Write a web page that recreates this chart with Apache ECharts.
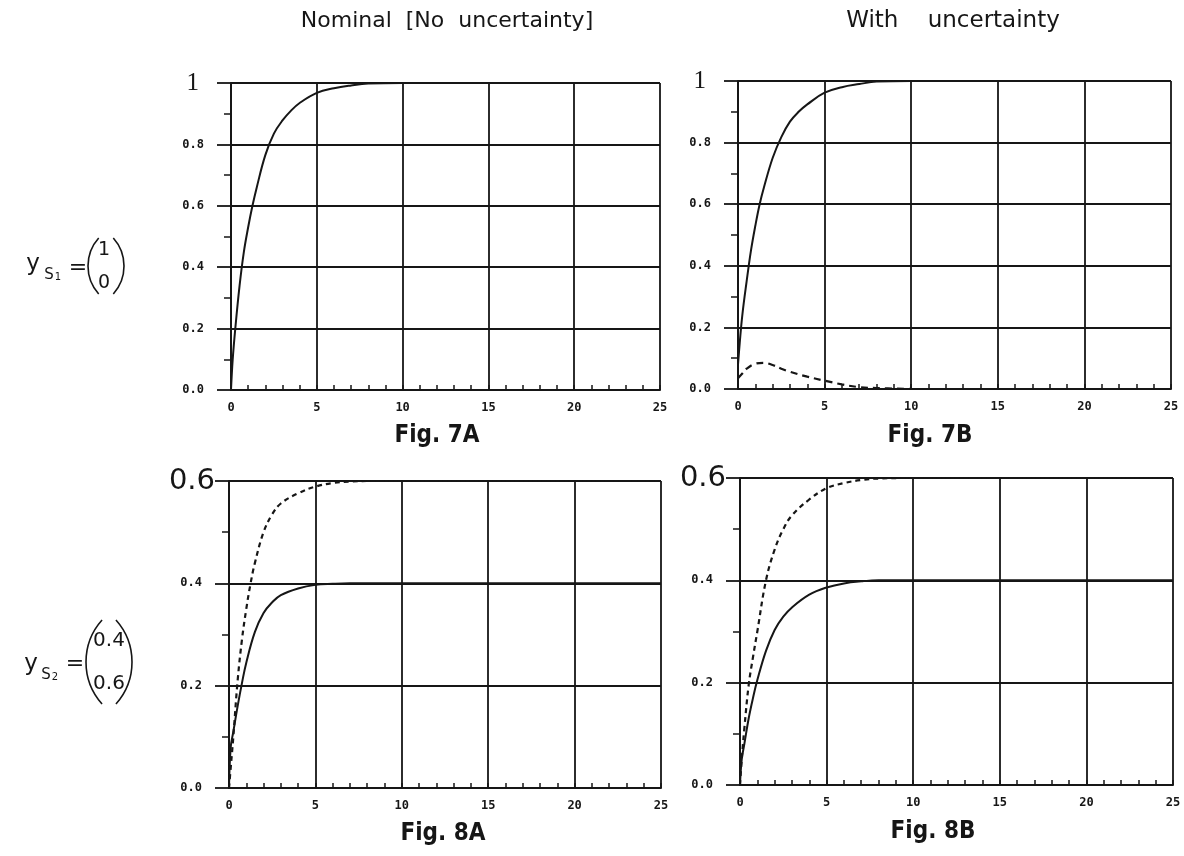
<!DOCTYPE html>
<html>
<head>
<meta charset="utf-8">
<script src="https://cdn.jsdelivr.net/npm/echarts@6/dist/echarts.min.js"></script>
<style>
html,body{margin:0;padding:0;background:#fff;}
#chart{width:1184px;height:856px;}
</style>
</head>
<body>
<div id="chart"></div>
<script>
// ---- tick labels ----
const xTickLabels = ['0', '5', '10', '15', '20', '25'];
const yTickLabels7 = ['0.0', '0.2', '0.4', '0.6', '0.8', '1'];
const yTickLabels8 = ['0.0', '0.2', '0.4', '0.6'];

// ---- Fig. 7A (nominal), output 1 ----
const t7A = [0, 0.1, 0.25, 0.5, 0.75, 1, 1.25, 1.5, 2, 2.5, 3, 3.5, 4, 5, 6, 7, 8, 10, 25];
const y7A = [0.0, 0.1, 0.2, 0.34, 0.45, 0.53, 0.6, 0.66, 0.765, 0.835, 0.878, 0.91, 0.935, 0.968, 0.983, 0.992, 0.998, 1.0, 1.0];

// ---- Fig. 7B (with uncertainty) ----
const t7B = [0, 0.1, 0.25, 0.5, 0.75, 1, 1.25, 1.5, 2, 2.5, 3, 3.5, 4, 5, 6, 7, 8, 10, 25];
const y7B = [0.08, 0.15, 0.24, 0.35, 0.45, 0.53, 0.6, 0.655, 0.75, 0.818, 0.868, 0.9, 0.924, 0.962, 0.98, 0.99, 0.998, 1.0, 1.0];
const t7Bd = [0, 0.25, 0.5, 1, 1.5, 2, 2.5, 3, 4, 5, 6, 7, 8, 10];
const y7Bd = [0.035, 0.05, 0.066, 0.082, 0.085, 0.078, 0.066, 0.056, 0.04, 0.027, 0.015, 0.006, 0.003, 0.0];

// ---- Fig. 8A (nominal) ----
const t8A = [0, 0.1, 0.25, 0.5, 0.75, 1, 1.5, 2, 2.5, 3, 4, 5, 6, 7, 25];
const y8A = [0.0, 0.08, 0.11, 0.16, 0.205, 0.245, 0.305, 0.342, 0.363, 0.377, 0.39, 0.397, 0.399, 0.4, 0.4];
const t8Ad = [0, 0.1, 0.25, 0.5, 0.75, 1, 1.25, 1.5, 2, 2.5, 3, 4, 5, 6, 7, 8, 25];
const y8Ad = [0.0, 0.04, 0.1, 0.21, 0.29, 0.35, 0.4, 0.44, 0.5, 0.535, 0.556, 0.576, 0.589, 0.596, 0.599, 0.6, 0.6];

// ---- Fig. 8B (with uncertainty) ----
const t8B = [0, 0.1, 0.25, 0.5, 0.75, 1, 1.5, 2, 2.5, 3, 4, 5, 6, 7, 8, 25];
const y8B = [0.0, 0.05, 0.08, 0.13, 0.17, 0.205, 0.262, 0.303, 0.329, 0.347, 0.372, 0.386, 0.394, 0.398, 0.4, 0.4];
const t8Bd = [0, 0.1, 0.25, 0.5, 0.75, 1, 1.5, 2, 2.5, 3, 4, 5, 6, 7, 8, 10, 25];
const y8Bd = [0.0, 0.05, 0.11, 0.195, 0.25, 0.3, 0.4, 0.46, 0.5, 0.527, 0.558, 0.58, 0.59, 0.596, 0.599, 0.6, 0.6];

const INK = '#161616';
const SANS = "'DejaVu Sans', sans-serif";
const COND = "'DejaVu Sans Condensed', 'DejaVu Sans', sans-serif";
const zip = (t, y) => t.map((v, i) => [v, y[i]]);

const grids = [
  { left: 231, top: 83, width: 429, height: 307 },
  { left: 738, top: 81, width: 433, height: 308 },
  { left: 229, top: 481, width: 432, height: 307 },
  { left: 740, top: 478, width: 433, height: 307 }
];

function xAxis(gi) {
  return {
    type: 'value', gridIndex: gi, min: 0, max: 25, interval: 5,
    axisLine: { show: true, lineStyle: { color: INK, width: 2 } },
    axisTick: { show: true, inside: true, length: 5, lineStyle: { color: INK, width: 1.5 } },
    minorTick: { show: true, splitNumber: 5, length: 5, lineStyle: { color: INK, width: 1.5 } },
    splitLine: { show: true, lineStyle: { color: INK, width: 1.8 } },
    axisLabel: {
      margin: 12, color: INK, fontSize: 12, fontWeight: 'bold', fontFamily: "'DejaVu Sans Mono', monospace",
      formatter: v => xTickLabels[Math.round(v / 5)]
    }
  };
}
function yAxis(gi, labels) {
  const max = (labels.length - 1) * 0.2;
  return {
    type: 'value', gridIndex: gi, min: 0, max: +max.toFixed(1), interval: 0.2,
    axisLine: { show: true, lineStyle: { color: INK, width: 2 } },
    axisTick: { show: true, inside: false, length: 14, lineStyle: { color: INK, width: 1.8 } },
    minorTick: { show: true, splitNumber: 2, length: 7, lineStyle: { color: INK, width: 1.5 } },
    splitLine: { show: true, lineStyle: { color: INK, width: 1.8 } },
    axisLabel: {
      margin: 12, color: INK,
      formatter: v => {
        const i = Math.round(v / 0.2);
        return i === labels.length - 1 ? '{big|' + labels[i] + '}' : '{s|' + labels[i] + '}';
      },
      rich: {
        s: { fontSize: 12, fontWeight: 'bold', fontFamily: "'DejaVu Sans Mono', monospace", color: INK, padding: [0, 15, 0, 0] },
        big: labels[labels.length - 1] === '1'
          ? { fontSize: 25, fontFamily: "'Liberation Serif', serif", color: INK, padding: [0, 20, 0, 0] }
          : { fontSize: 29, fontFamily: SANS, color: INK, padding: [0, 2, 0, 0] }
      }
    }
  };
}

function solid(gi, data) {
  return { type: 'line', xAxisIndex: gi, yAxisIndex: gi, data: data, showSymbol: false, smooth: 0.4,
    lineStyle: { color: INK, width: 2 }, z: 5 };
}
function dashed(gi, data, dash) {
  return { type: 'line', xAxisIndex: gi, yAxisIndex: gi, data: data, showSymbol: false, smooth: 0.4,
    lineStyle: { color: INK, width: 2.2, type: dash }, z: 5 };
}

const txt = (x, y, text, size, extra) => ({
  type: 'text', x: x, y: y, z: 10,
  style: Object.assign({ text: text, fontSize: size, fontFamily: SANS, fill: INK, align: 'center', verticalAlign: 'middle' }, extra || {})
});
// thin bracket drawn as a circular arc: side -1 = '(' , +1 = ')'
const paren = (xEdge, cy, h, side) => {
  const r = h * 0.75;
  const half = Math.asin((h / 2) / r);
  const cx = side < 0 ? xEdge + r : xEdge - r;
  const mid = side < 0 ? Math.PI : 0;
  return {
    type: 'arc', z: 10,
    shape: { cx: cx, cy: cy, r: r, startAngle: mid - half, endAngle: mid + half },
    style: { stroke: INK, lineWidth: 1.6, fill: null }
  };
};

const chart = echarts.init(document.getElementById('chart'), null, { renderer: 'canvas' });
chart.setOption({
  backgroundColor: '#ffffff',
  animation: false,
  grid: grids,
  xAxis: [xAxis(0), xAxis(1), xAxis(2), xAxis(3)],
  yAxis: [yAxis(0, yTickLabels7), yAxis(1, yTickLabels7), yAxis(2, yTickLabels8), yAxis(3, yTickLabels8)],
  series: [
    solid(0, zip(t7A, y7A)),
    solid(1, zip(t7B, y7B)),
    dashed(1, zip(t7Bd, y7Bd), [7, 5]),
    solid(2, zip(t8A, y8A)),
    dashed(2, zip(t8Ad, y8Ad), [5, 4]),
    solid(3, zip(t8B, y8B)),
    dashed(3, zip(t8Bd, y8Bd), [5, 4])
  ],
  graphic: [
    txt(447, 21, 'Nominal  [No  uncertainty]', 22, { fontFamily: SANS }),
    txt(953, 21, 'With    uncertainty', 23, { fontFamily: SANS }),
    txt(437, 436, 'Fig. 7A', 24, { fontFamily: COND, fontWeight: 'bold' }),
    txt(930, 436, 'Fig. 7B', 24, { fontFamily: COND, fontWeight: 'bold' }),
    txt(443, 834, 'Fig. 8A', 24, { fontFamily: COND, fontWeight: 'bold' }),
    txt(933, 832, 'Fig. 8B', 24, { fontFamily: COND, fontWeight: 'bold' }),
    // y_S1 = (1 ; 0)
    txt(33, 264, 'y', 23),
    txt(49, 275, 'S', 15),
    txt(58, 277, '1', 10),
    txt(78, 268, '=', 22),
    paren(88, 266, 56, -1),
    txt(104, 250, '1', 19),
    txt(104, 283, '0', 19),
    paren(124, 266, 56, 1),
    // y_S2 = (0.4 ; 0.6)
    txt(31, 664, 'y', 23),
    txt(46, 675, 'S', 15),
    txt(55, 677, '2', 10),
    txt(75, 664, '=', 22),
    paren(86, 662, 84, -1),
    txt(109, 641, '0.4', 20),
    txt(109, 684, '0.6', 20),
    paren(132, 662, 84, 1)
  ]
});
</script>
</body>
</html>
